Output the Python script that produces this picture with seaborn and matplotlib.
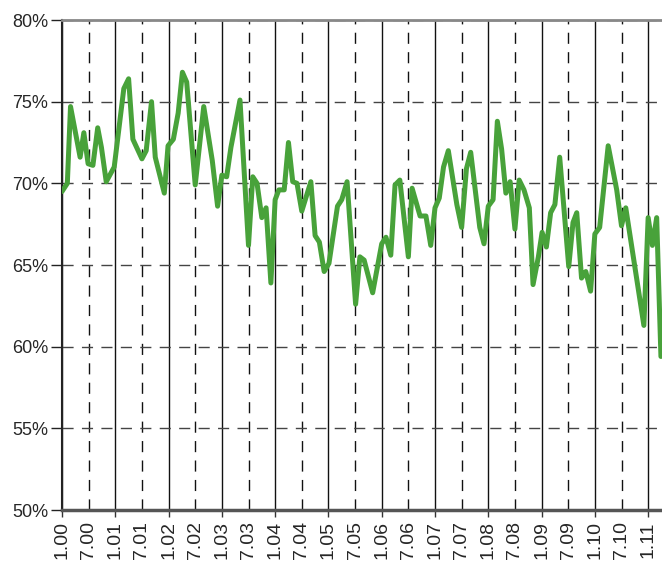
import matplotlib
matplotlib.use("Agg")
import matplotlib.pyplot as plt
import numpy as np
import pandas as pd
import seaborn as sns

# years since Jan 2000
years = [0.0, 0.10, 0.16, 0.34, 0.41, 0.49, 0.58, 0.67, 0.74, 0.83, 0.98,
         1.16, 1.25, 1.33, 1.50, 1.58, 1.68, 1.75, 1.92, 1.99, 2.09, 2.18,
         2.26, 2.34, 2.50, 2.66, 2.82, 2.92, 3.00, 3.09, 3.17, 3.34, 3.50,
         3.58, 3.66, 3.75, 3.83, 3.92, 4.00, 4.07, 4.17, 4.25, 4.33, 4.41,
         4.50, 4.67, 4.75, 4.83, 4.92, 5.01, 5.17, 5.25, 5.35, 5.51, 5.59,
         5.67, 5.83, 6.00, 6.08, 6.17, 6.25, 6.34, 6.50, 6.57, 6.72, 6.83,
         6.92, 7.00, 7.08, 7.16, 7.25, 7.41, 7.50, 7.59, 7.67, 7.84, 7.92,
         8.00, 8.09, 8.17, 8.25, 8.33, 8.41, 8.50, 8.58, 8.67, 8.77, 8.84,
         8.94, 9.01, 9.09, 9.17, 9.25, 9.34, 9.51, 9.59, 9.66, 9.75, 9.83,
         9.92, 10.00, 10.09, 10.25, 10.41, 10.50, 10.58, 10.92, 11.00,
         11.08, 11.16, 11.24]

share = [69.5, 70.0, 74.7, 71.6, 73.1, 71.2, 71.1, 73.4, 72.2, 70.1, 71.0,
         75.8, 76.4, 72.7, 71.5, 72.0, 75.0, 71.6, 69.4, 72.3, 72.7, 74.3,
         76.8, 76.2, 69.9, 74.7, 71.4, 68.6, 70.5, 70.4, 72.2, 75.1, 66.2,
         70.4, 70.0, 67.9, 68.5, 63.9, 69.0, 69.6, 69.6, 72.5, 70.1, 70.0,
         68.3, 70.1, 66.8, 66.4, 64.6, 65.1, 68.6, 69.0, 70.1, 62.6, 65.5,
         65.3, 63.3, 66.3, 66.7, 65.6, 69.9, 70.2, 65.5, 69.7, 68.0, 68.0,
         66.2, 68.5, 69.1, 71.0, 72.0, 68.7, 67.3, 70.9, 71.9, 67.3, 66.3,
         68.6, 69.0, 73.8, 72.1, 69.4, 70.1, 67.2, 70.2, 69.6, 68.5, 63.8,
         65.5, 67.0, 66.1, 68.2, 68.7, 71.6, 64.9, 67.6, 68.2, 64.2, 64.6,
         63.4, 66.9, 67.3, 72.3, 69.6, 67.4, 68.5, 61.3, 67.9,
         66.2, 67.9, 59.4]

year_labels = ["1.00", "1.01", "1.02", "1.03", "1.04", "1.05", "1.06",
               "1.07", "1.08", "1.09", "1.10", "1.11"]
half_labels = ["7.00", "7.01", "7.02", "7.03", "7.04", "7.05", "7.06",
               "7.07", "7.08", "7.09", "7.10"]
y_ticks = [50, 55, 60, 65, 70, 75, 80]

df = pd.DataFrame({"t": years, "share": share})

sns.set_style("white")
plt.rcParams['font.family'] = ['Liberation Sans', 'DejaVu Sans']

fig = plt.figure(figsize=(6.62, 5.65), dpi=100)
ax = fig.add_axes([62 / 662, 55 / 565, 600 / 662, 490 / 565])

sns.lineplot(data=df, x="t", y="share", ax=ax, color="#48a23a",
             linewidth=3.6, zorder=5)

ax.set_xlim(0, 11.26)
ax.set_ylim(50, 80)

ax.set_xticks(np.arange(len(year_labels)))
ax.set_xticklabels(year_labels, rotation=90)
ax.set_xticks(np.arange(len(half_labels)) + 0.5, minor=True)
ax.set_xticklabels(half_labels, rotation=90, minor=True)
ax.set_yticks(y_ticks)
ax.set_yticklabels(["{}%".format(v) for v in y_ticks])

ax.tick_params(axis="x", which="major", length=5, width=1, color="#333333",
               labelsize=14, pad=3, bottom=True)
ax.tick_params(axis="x", which="minor", length=0, labelsize=14, pad=8,
               bottom=True)
ax.tick_params(axis="y", length=8, width=1, color="#222222", labelsize=13,
               left=True, pad=2)

ax.grid(False)
ax.grid(axis="x", which="major", color="#111111", linestyle="-", linewidth=1)
ax.grid(axis="x", which="minor", color="#111111", linestyle=(0, (8, 6)),
        linewidth=1)
ax.grid(axis="y", which="major", color="#444444", linestyle=(0, (8, 6)),
        linewidth=1)
ax.set_axisbelow(True)

ax.spines["right"].set_visible(False)
ax.spines["top"].set_color("#888888")
ax.spines["top"].set_linewidth(2)
ax.spines["bottom"].set_color("#555555")
ax.spines["bottom"].set_linewidth(2.5)
ax.spines["left"].set_color("#222222")
ax.spines["left"].set_linewidth(1.5)

ax.set_xlabel("")
ax.set_ylabel("")

fig.savefig("out.png", dpi=100)
